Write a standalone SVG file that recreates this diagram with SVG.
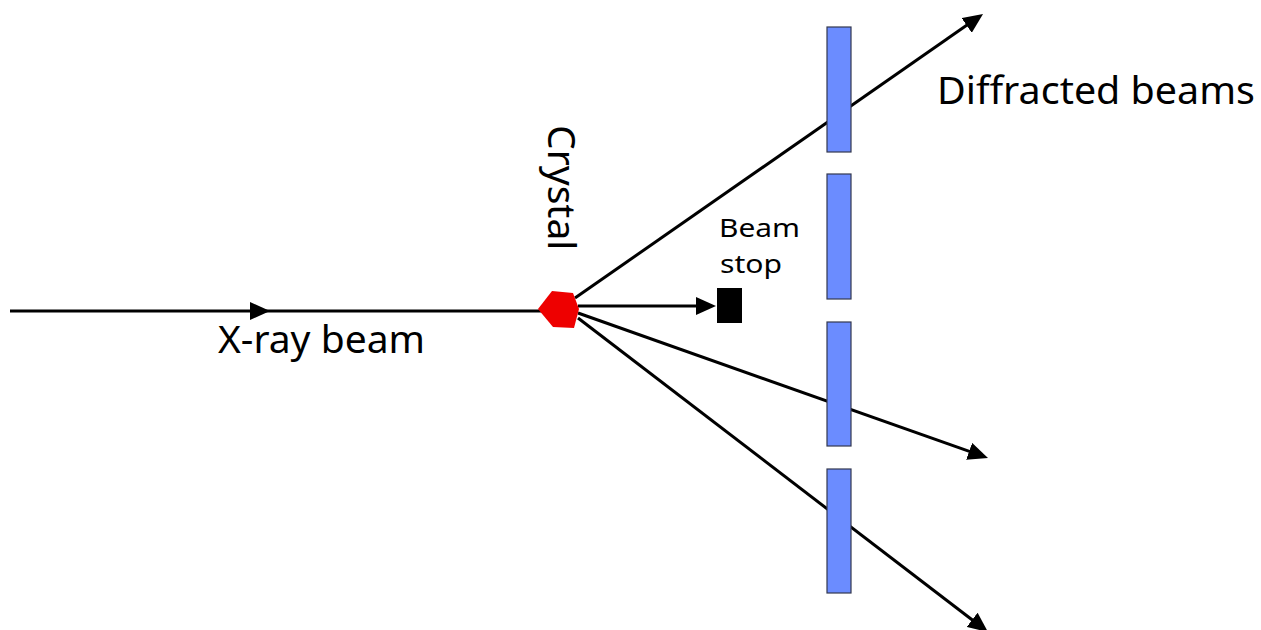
<svg xmlns="http://www.w3.org/2000/svg" width="1261" height="630" viewBox="0 0 1261 630">
  <style>
    .beam { fill: none; stroke: #000; stroke-width: 3; }
    .det { fill: #6b8cff; stroke: #33384f; stroke-width: 1.2; }
    .lbl { font-family: "Noto Sans", "DejaVu Sans", sans-serif; fill: #000; }
  </style>
  <defs>
    <marker id="arrow" viewBox="0 0 20 18" refX="4" refY="9" markerWidth="20" markerHeight="18" markerUnits="userSpaceOnUse" orient="auto">
      <path d="M0,0 L20,9 L0,18 z" fill="#000"/>
    </marker>
  </defs>
  <rect width="1261" height="630" fill="#fff"/>
  <g id="connectors">
    <path class="beam" d="M10,311 L254,311 L545,311" marker-mid="url(#arrow)"/>
    <path class="beam" d="M575,298 L969.9,23.1" marker-end="url(#arrow)"/>
    <path class="beam" d="M578,306 L700,306" marker-end="url(#arrow)"/>
    <path class="beam" d="M578,313 L972.9,452.7" marker-end="url(#arrow)"/>
    <path class="beam" d="M578,318 L975.3,622.3" marker-end="url(#arrow)"/>
  </g>
  <g id="detector-1"><rect class="det" x="827" y="27" width="24" height="125"/></g>
  <g id="detector-2"><rect class="det" x="827" y="174" width="24" height="125"/></g>
  <g id="detector-3"><rect class="det" x="827" y="322" width="24" height="124"/></g>
  <g id="detector-4"><rect class="det" x="827" y="469" width="24" height="124"/></g>
  <g id="crystal">
    <polygon points="538,309 552,291 573,293 579,309 574,328 553,327" fill="#ee0000"/>
    <text class="lbl" x="548" y="125" font-size="39" transform="rotate(90 548 125)">Crystal</text>
  </g>
  <g id="beam-stop">
    <rect x="717" y="288" width="25" height="35" fill="#000"/>
    <text class="lbl" font-size="26" x="719" y="237" textLength="81" lengthAdjust="spacingAndGlyphs">Beam</text>
    <text class="lbl" font-size="26" x="720" y="273" textLength="62" lengthAdjust="spacingAndGlyphs">stop</text>
  </g>
  <g id="xray-label">
    <text class="lbl" x="218" y="353" font-size="39">X-ray beam</text>
  </g>
  <g id="diffracted-label">
    <text class="lbl" x="937" y="104" font-size="39" textLength="318" lengthAdjust="spacingAndGlyphs">Diffracted beams</text>
  </g>
</svg>
